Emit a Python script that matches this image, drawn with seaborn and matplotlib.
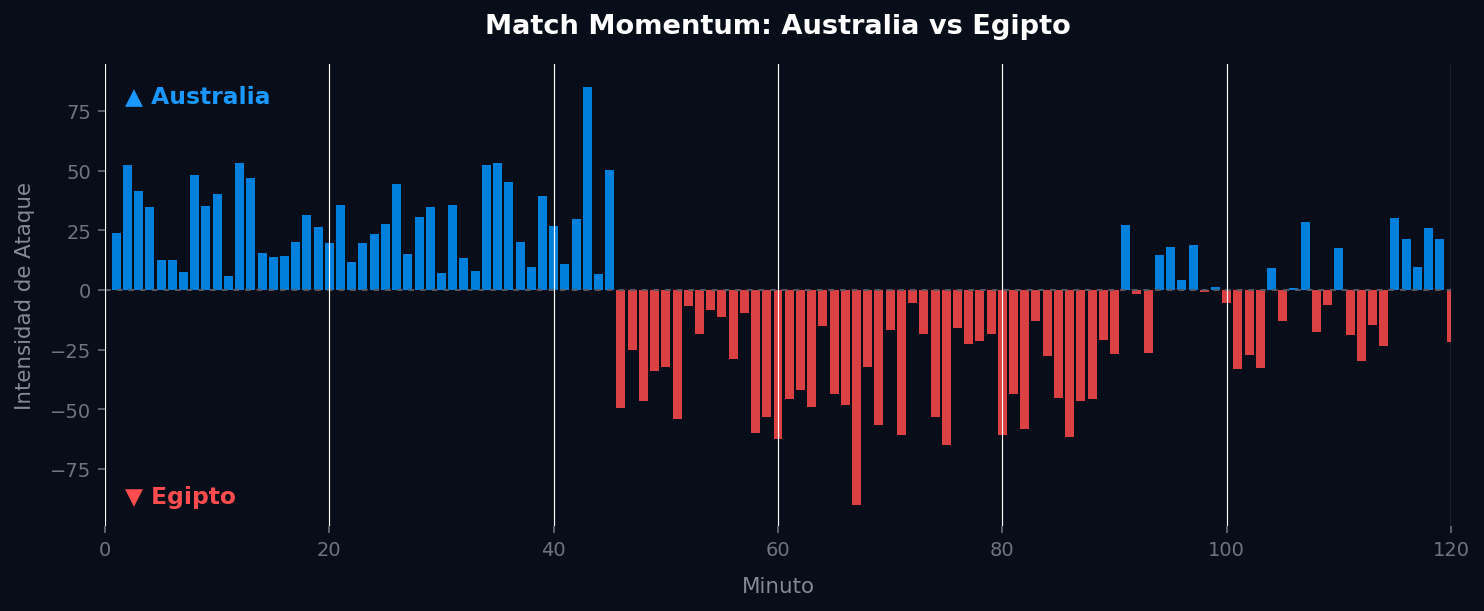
import numpy as np
import pandas as pd
import matplotlib
matplotlib.use("Agg")
import matplotlib.pyplot as plt
import seaborn as sns

# ---- data ----
minutes = list(range(1, 121))
momentum = [
    24, 52.5, 41.3, 34.6, 12.5, 12.5, 7.5, 48.3, 35, 40.4,
    5.8, 53.3, 46.7, 15.4, 13.8, 14.2, 20, 31.3, 26.3, 19.6,
    35.4, 11.7, 19.6, 23.3, 27.5, 44.2, 15, 30.4, 34.6, 7.1,
    35.4, 13.3, 7.9, 52.5, 53.3, 45.4, 20, 9.6, 39.2, 26.7,
    10.8, 29.6, 85, 6.7, 50.4, -49.4, -25.3, -46.5, -34, -32.4,
    -54, -6.9, -18.6, -8.6, -11.5, -29, -9.9, -59.9, -53.2, -62.4,
    -45.7, -41.9, -49, -15.3, -43.6, -48.2, -90.3, -32.4, -56.5, -16.9,
    -60.7, -5.7, -18.6, -53.2, -64.9, -16.1, -22.8, -21.5, -18.6, -60.7,
    -43.6, -58.2, -13.2, -27.8, -45.3, -61.5, -46.5, -45.7, -21.1, -27,
    27.2, -1.9, -26.5, 14.7, 18, 4.3, 18.9, -0.7, 1.4, -5.3,
    -33.2, -27.4, -32.8, 9.3, -13.1, 0.6, 28.5, -17.7, -6.5, 17.7,
    -19, -29.8, -14.8, -23.5, 30.2, 21.5, 9.4, 26, 21.5, -21.9,
]
team_a = "Australia"
team_b = "Egipto"
title = "Match Momentum: Australia vs Egipto"
x_label = "Minuto"
y_label = "Intensidad de Ataque"

# ---- styling ----
BG = "#070d19"
BLUE = "#0080dd"
RED = "#db4143"
BLUE_TXT = "#1a98ff"
RED_TXT = "#ff4d4f"
TICK = "#6f7480"
LABEL = "#858a94"

df = pd.DataFrame({"minute": minutes, "momentum": momentum})
df["team"] = np.where(df["momentum"] >= 0, team_a, team_b)

plt.rcParams["font.family"] = ["DejaVu Sans"]
fig = plt.figure(figsize=(1484 / 140, 612 / 140), dpi=140, facecolor=BG)
ax = fig.add_axes([105 / 1484, 1 - 527 / 612, (1451 - 105) / 1484, (527 - 65) / 612])
ax.set_facecolor(BG)

sns.barplot(data=df, x="minute", y="momentum", hue="team",
            palette={team_a: BLUE, team_b: RED}, native_scale=True,
            orient="x", dodge=False, width=0.8, saturation=1,
            errorbar=None, legend=False, ax=ax, linewidth=0)

ax.axhline(0, color="#555a63", lw=1.0, ls=(0, (3, 3)), zorder=1)

ax.set_xlim(0, 120)
ax.set_ylim(-99, 94.7)
ax.set_xticks([0, 20, 40, 60, 80, 100, 120])
ax.set_yticks([-75, -50, -25, 0, 25, 50, 75])
ax.grid(axis="x", color="white", lw=0.6)
ax.grid(axis="y", visible=False)
ax.set_axisbelow(False)
for s in ax.spines.values():
    s.set_visible(False)
ax.tick_params(colors=TICK, labelcolor=TICK, labelsize=10, length=3.5)

ax.set_xlabel(x_label, color=LABEL, fontsize=11, labelpad=9)
ax.set_ylabel(y_label, color=LABEL, fontsize=11, labelpad=8)

ax.text(0.015, 0.932, "\u25B2 " + team_a, transform=ax.transAxes, color=BLUE_TXT,
        fontsize=12, fontweight="bold", va="center", ha="left")
ax.text(0.015, 0.063, "\u25BC " + team_b, transform=ax.transAxes, color=RED_TXT,
        fontsize=12, fontweight="bold", va="center", ha="left")

fig.text(778 / 1484, 1 - 27 / 612, title, color="white", fontsize=14, fontweight="bold",
         ha="center", va="center")

fig.savefig("out.png", dpi=140, facecolor=BG)
